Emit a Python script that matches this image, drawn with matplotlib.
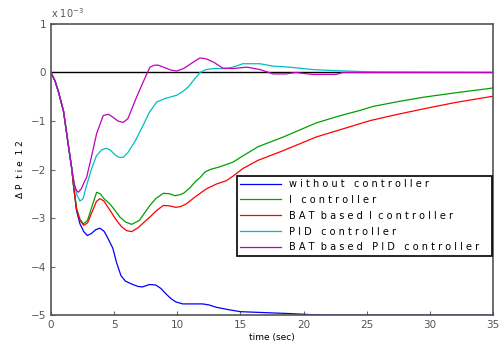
import matplotlib
matplotlib.use('Agg')
import matplotlib.pyplot as plt
import numpy as np

# deviation of tie-line power, in units of 1e-3
t_blue = [0, 0.32, 0.6, 1.0, 1.37, 1.64, 1.8, 2.03, 2.3, 2.6, 2.88, 3.2, 3.55, 3.88, 4.2, 4.4, 4.9, 5.2, 5.55, 5.9,
          6.48, 6.9, 7.25, 7.8, 8.3, 8.7, 9.1, 9.5, 9.9, 10.45, 11.2, 12.0, 12.5, 13.1, 14.1, 15.0, 17.0, 19.0, 20.5, 22, 35]
y_blue = [0, -0.17, -0.4, -0.8, -1.48, -1.96, -2.35, -2.85, -3.12, -3.28, -3.36, -3.32, -3.24, -3.21, -3.27, -3.36, -3.62, -3.92, -4.19, -4.3,
          -4.37, -4.41, -4.42, -4.37, -4.38, -4.45, -4.56, -4.66, -4.73, -4.77, -4.77, -4.77, -4.79, -4.84, -4.89, -4.93, -4.95, -4.97, -4.99, -5.0, -5.0]

t_green = [0, 0.32, 0.6, 1.0, 1.37, 1.64, 1.8, 2.03, 2.3, 2.56, 2.9, 3.3, 3.62, 3.9, 4.2, 4.67, 5.1, 5.46, 5.9, 6.39, 7.0, 7.4, 7.84, 8.3,
           8.9, 9.4, 9.82, 10.2, 10.5, 11.0, 11.5, 11.8, 12.2, 12.6, 13.3, 14.4, 15.2, 16.4, 18.4, 21.0, 22.9, 24.5, 25.5, 27.5, 29.5, 32.0, 35.0]
y_green = [0, -0.17, -0.4, -0.8, -1.48, -1.96, -2.35, -2.8, -3.02, -3.12, -3.05, -2.72, -2.47, -2.5, -2.6, -2.71, -2.85, -2.98, -3.08, -3.13, -3.05, -2.9, -2.74, -2.6,
           -2.49, -2.5, -2.54, -2.52, -2.49, -2.38, -2.23, -2.17, -2.05, -2.0, -1.95, -1.85, -1.72, -1.53, -1.33, -1.04, -0.89, -0.78, -0.70, -0.60, -0.51, -0.42, -0.32]

t_red = [0, 0.32, 0.6, 1.0, 1.37, 1.64, 1.8, 2.03, 2.3, 2.6, 2.9, 3.3, 3.6, 3.88, 4.2, 4.7, 5.2, 5.6, 6.0, 6.4, 6.9, 7.4, 7.84, 8.3,
         8.9, 9.4, 9.9, 10.3, 10.7, 11.5, 12.3, 13.1, 13.9, 14.4, 15.2, 16.4, 18.4, 21.0, 23.4, 25.3, 27.5, 29.5, 32.0, 35.0]
y_red = [0, -0.17, -0.4, -0.8, -1.48, -1.96, -2.35, -2.82, -3.05, -3.15, -3.1, -2.85, -2.66, -2.6, -2.65, -2.85, -3.05, -3.18, -3.26, -3.28, -3.2, -3.08, -2.98, -2.86,
         -2.74, -2.75, -2.78, -2.76, -2.71, -2.55, -2.4, -2.3, -2.23, -2.14, -1.98, -1.81, -1.61, -1.33, -1.14, -0.99, -0.86, -0.75, -0.62, -0.49]

t_cyan = [0, 0.32, 0.6, 1.0, 1.37, 1.64, 1.85, 2.05, 2.3, 2.55, 2.8, 3.2, 3.6, 4.0, 4.35, 4.7, 5.1, 5.4, 5.72, 6.1, 6.7, 7.3, 7.8, 8.37,
          9.0, 9.95, 10.4, 10.87, 11.3, 11.8, 12.3, 12.85, 13.9, 14.4, 15.2, 16.55, 17.6, 18.9, 20.7, 22.3, 24.5, 26.0, 35.0]
y_cyan = [0, -0.17, -0.4, -0.8, -1.48, -1.96, -2.3, -2.52, -2.65, -2.6, -2.35, -2.0, -1.72, -1.6, -1.56, -1.6, -1.7, -1.75, -1.75, -1.65, -1.4, -1.09, -0.82, -0.61,
          -0.54, -0.47, -0.4, -0.3, -0.16, 0.0, 0.06, 0.08, 0.08, 0.11, 0.18, 0.18, 0.13, 0.11, 0.06, 0.04, 0.02, 0.01, 0.0]

t_mag = [0, 0.32, 0.6, 1.0, 1.37, 1.64, 1.85, 2.0, 2.16, 2.4, 2.69, 2.83, 3.2, 3.62, 4.14, 4.54, 4.9, 5.3, 5.72, 6.1, 6.78, 7.3, 7.84, 8.2, 8.5,
         9.0, 9.5, 9.95, 10.5, 11.2, 11.8, 12.3, 12.9, 13.6, 14.4, 15.5, 16.55, 17.6, 18.6, 19.4, 20.0, 20.7, 22.6, 23.1, 35.0]
y_mag = [0, -0.17, -0.4, -0.8, -1.48, -1.96, -2.3, -2.42, -2.47, -2.4, -2.23, -2.16, -1.75, -1.26, -0.89, -0.86, -0.92, -1.0, -1.03, -0.95, -0.51, -0.2, 0.11, 0.15, 0.15,
         0.1, 0.05, 0.03, 0.08, 0.2, 0.3, 0.28, 0.21, 0.09, 0.08, 0.11, 0.06, -0.03, -0.03, 0.0, -0.02, -0.04, -0.04, 0.0, 0.0]

labels = ['w i t h o u t   c o n t r o l l e r',
          'I   c o n t r o l l e r',
          'B A T  b a s e d  I  c o n t r o l l e r',
          'P I D   c o n t r o l l e r',
          'B A T  b a s e d   P I D   c o n t r o l l e r']

fig = plt.figure(figsize=(4.99, 3.47), dpi=100)
ax = fig.add_axes([0.102, 0.092, 0.886, 0.839])

ax.plot([0, 35], [0, 0], color='black', lw=1.0)
ax.plot(t_blue, y_blue, color='#0000ff', lw=0.9, label=labels[0])
ax.plot(t_green, y_green, color='#00a000', lw=0.9, label=labels[1])
ax.plot(t_red, y_red, color='#ff0000', lw=0.9, label=labels[2])
ax.plot(t_cyan, y_cyan, color='#00bfbf', lw=0.9, label=labels[3])
ax.plot(t_mag, y_mag, color='#bf00bf', lw=0.9, label=labels[4])

ax.set_xlim(0, 35)
ax.set_ylim(-5, 1)
ax.set_xticks(range(0, 36, 5))
ax.set_yticks(range(-5, 2))
ax.tick_params(direction='in', length=3, labelsize=7.5, colors='#666666', labelcolor='#555555')
for s in ax.spines.values():
    s.set_color('#555555')
    s.set_linewidth(1.2)

ax.set_xlabel('time (sec)', fontsize=6.5, labelpad=2)
ax.set_ylabel('\u0394 P  t i e  1 2', fontsize=6.5, labelpad=4)
ax.text(0.0, 1.012, 'x 10$^{-3}$', transform=ax.transAxes, fontsize=7, color='#555555', va='bottom')

leg = ax.legend(loc='upper left', bbox_to_anchor=(0.42, 0.206, 0.578, 0.273), mode='expand',
                fontsize=7, handlelength=4.2, handletextpad=0.8, labelspacing=0.6,
                fancybox=False, framealpha=1, edgecolor='black', borderaxespad=0, borderpad=0.35)
leg.get_frame().set_linewidth(1.2)

fig.savefig('out.png', dpi=100)
